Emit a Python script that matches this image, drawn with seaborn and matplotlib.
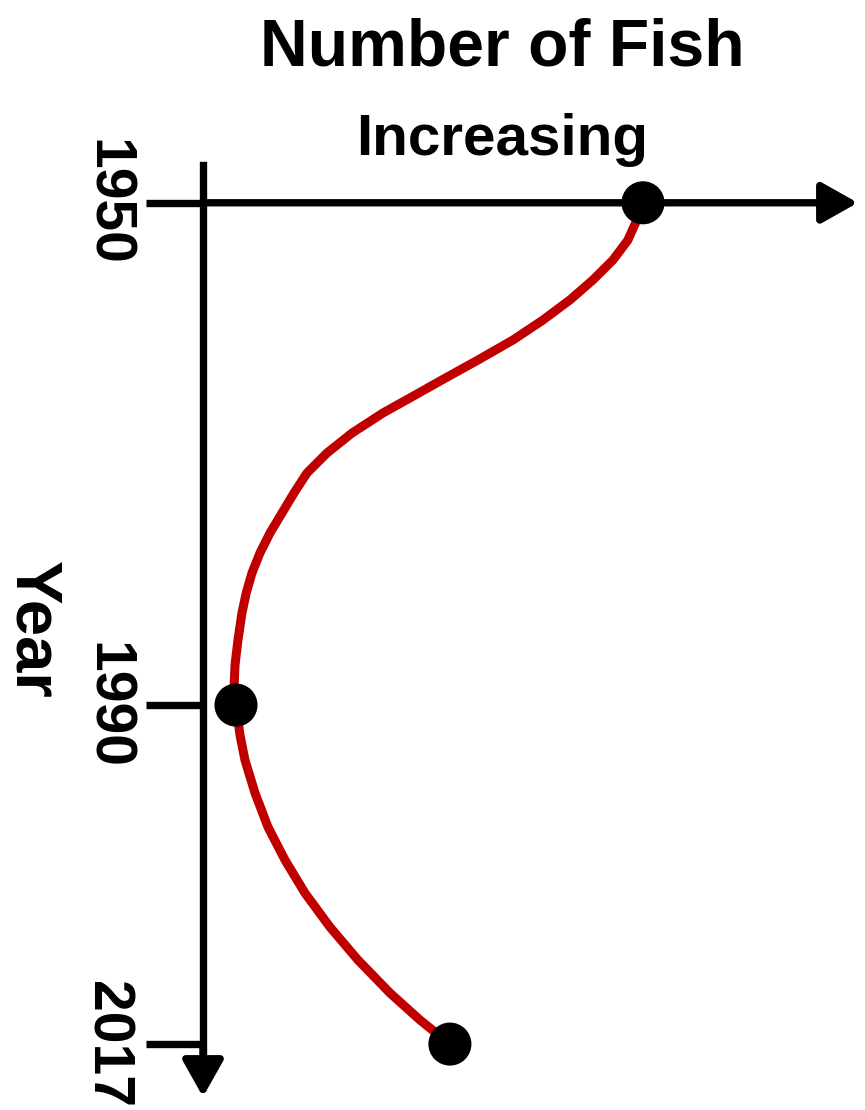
import numpy as np
import pandas as pd
import seaborn as sns
import matplotlib.pyplot as plt

# curve (year, number of fish in arbitrary units)
curve_years = [1950.0, 1951.37, 1952.97, 1954.56, 1956.15, 1957.74, 1959.34,
               1960.93, 1962.52, 1964.11, 1965.31, 1966.74, 1968.34, 1969.93,
               1971.52, 1973.11, 1974.71, 1976.30, 1977.89, 1979.48, 1981.08,
               1982.67, 1984.82, 1986.81, 1988.80, 1990.0, 1992.39, 1994.38,
               1997.00, 1999.71, 2002.34, 2004.97, 2007.68, 2010.30, 2012.93,
               2015.08, 2017.0]
curve_fish = [67.2, 66.26, 64.89, 62.60, 59.54, 56.03, 51.91,
              47.33, 42.00, 36.49, 32.40, 27.48, 22.75, 18.93,
              15.88, 13.90, 12.06, 10.23, 8.70, 7.48, 6.60,
              5.95, 5.34, 4.89, 4.73, 5.04, 5.65, 6.41,
              7.94, 9.92, 12.52, 15.57, 19.39, 23.66, 28.55,
              33.13, 37.71]

key_years = [1950, 1990, 2017]
key_fish = [67.2, 5.04, 37.71]

tick_years = [1950, 1990, 2017]
tick_labels = ['1950', '1990', '2017']

curve = pd.DataFrame({'year': curve_years, 'fish': curve_fish})
keys = pd.DataFrame({'year': key_years, 'fish': key_fish})

sns.set_theme(style='white')
plt.rcParams['font.family'] = ['Liberation Sans', 'DejaVu Sans']
plt.rcParams['text.color'] = 'black'
plt.rcParams['ytick.color'] = 'black'
plt.rcParams['ytick.labelcolor'] = 'black'

fig = plt.figure(figsize=(8.65, 11.1), dpi=100)
ax = fig.add_axes([0, 0, 1, 1])
ax.set_xlim(-31.0, 101.1)
ax.set_ylim(2022.25, 1933.85)

sns.lineplot(data=curve, x='fish', y='year', orient='y', estimator=None,
             color='#c00000', lw=6.5, ax=ax, solid_capstyle='butt',
             solid_joinstyle='round', zorder=3)
sns.scatterplot(data=keys, x='fish', y='year', s=31 ** 2, color='black',
                edgecolor='none', ax=ax, zorder=5)

# axes drawn as arrows
for side in ['top', 'right', 'bottom']:
    ax.spines[side].set_visible(False)
ax.spines['left'].set_position(('data', 0))
ax.spines['left'].set_bounds(1947.0, 2018.0)
ax.spines['left'].set_linewidth(5.3)
ax.spines['left'].set_color('black')

arrow = dict(arrowstyle='-|>,head_length=1.1,head_width=0.62', mutation_scale=20,
             lw=5.3, color='black', shrinkA=0, shrinkB=0)
ax.annotate('', xy=(100, 1950), xytext=(0, 1950), arrowprops=arrow)
ax.annotate('', xy=(0, 2021.2), xytext=(0, 2017), arrowprops=arrow)

ax.set_xticks([])
ax.set_yticks(tick_years)
ax.set_yticklabels(tick_labels)
ax.tick_params(axis='y', left=True, direction='out', length=41, width=5.3,
               color='black', pad=9, labelsize=41, labelrotation=-90,
               labelcolor='black')
for lbl in ax.get_yticklabels():
    lbl.set_fontweight('bold')
    lbl.set_va('center')
ax.set_xlabel('')
ax.set_ylabel('')

fig.text(502 / 865, 1 - 65 / 1110, 'Number of Fish', ha='center', va='baseline',
         fontsize=47.5, fontweight='bold', color='black')
fig.text(502 / 865, 1 - 155 / 1110, 'Increasing', ha='center', va='baseline',
         fontsize=42, fontweight='bold', color='black')
fig.text(32 / 865, 1 - 630 / 1110, 'Year', rotation=-90, ha='center', va='center',
         fontsize=47, fontweight='bold', color='black')

plt.savefig('out.png', dpi=100)
